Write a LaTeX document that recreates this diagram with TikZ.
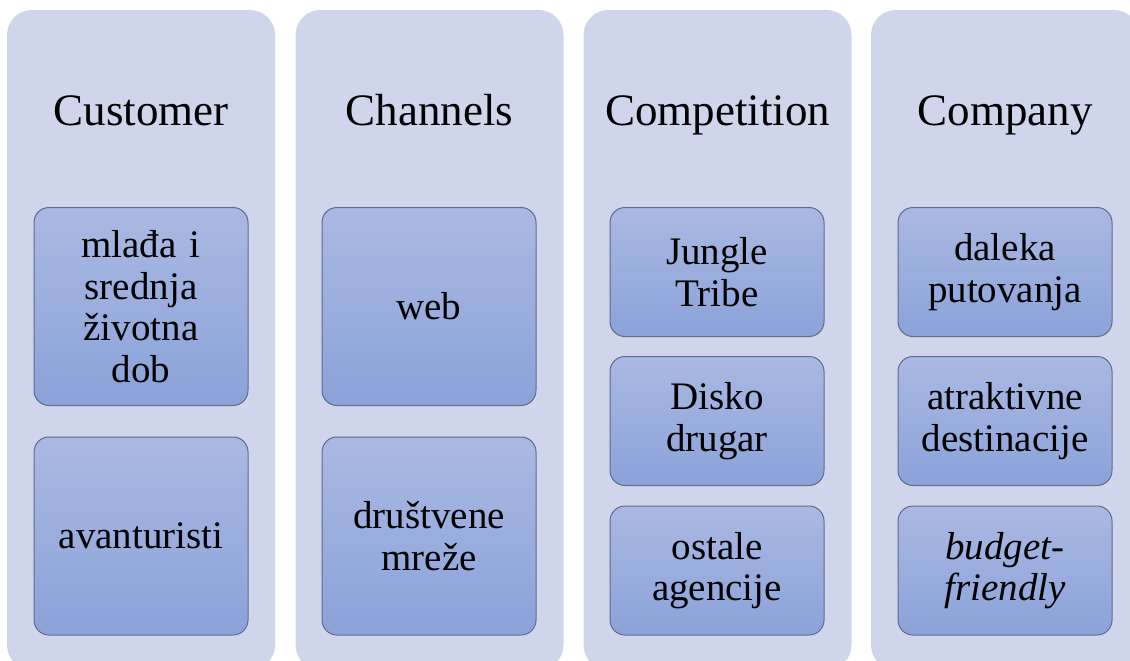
\documentclass[tikz,border=0pt]{standalone}
\usepackage{fontspec}
\setmainfont{Liberation Serif}
\definecolor{colbg}{RGB}{207,213,234}
\definecolor{boxtop}{RGB}{170,185,226}
\definecolor{boxbot}{RGB}{138,162,218}
\definecolor{boxline}{RGB}{95,108,140}
\tikzset{
  column/.style={rectangle, rounded corners=25pt, fill=colbg, inner sep=0pt, minimum width=268pt, minimum height=660pt},
  coltitle/.style={anchor=base, inner sep=0pt, font=\fontsize{45}{50}\selectfont},
  itembox/.style={rectangle, rounded corners=15pt, top color=boxtop, bottom color=boxbot, draw=boxline, line width=1pt, minimum width=214pt, align=center, text width=200pt, inner sep=0pt, font=\fontsize{39}{41.5}\selectfont},
  tallbox/.style={itembox, minimum height=198pt},
  shortbox/.style={itembox, minimum height=129pt}
}
\begin{document}
\begin{tikzpicture}[x=1pt,y=-1pt]
\useasboundingbox (0,0) rectangle (1130,661);
\clip (0,0) rectangle (1130,661);
\node[column] (c1) at (141,340) {};
\node[column] (c2) at (429.5,340) {};
\node[column] (c3) at (717.5,340) {};
\node[column] (c4) at (1005,340) {};
\node[coltitle] (t1) at (141,125) {Customer};
\node[coltitle] (t2) at (429.5,125) {Channels};
\node[coltitle] (t3) at (717.5,125) {Competition};
\node[coltitle] (t4) at (1005,125) {Company};
\node[tallbox] (a1) at (141,306.5) {mlađa i\\srednja\\životna\\dob};
\node[tallbox] (a2) at (141,536) {avanturisti};
\node[tallbox] (b1) at (429,306.5) {web};
\node[tallbox] (b2) at (429,536) {društvene\\mreže};
\node[shortbox] (k1) at (717,272) {Jungle\\Tribe};
\node[shortbox] (k2) at (717,421) {Disko\\drugar};
\node[shortbox] (k3) at (717,570.5) {ostale\\agencije};
\node[shortbox] (d1) at (1005,272) {daleka\\putovanja};
\node[shortbox] (d2) at (1005,421) {atraktivne\\destinacije};
\node[shortbox] (d3) at (1005,570.5) {\itshape budget-\\\itshape friendly};
\end{tikzpicture}
\end{document}
